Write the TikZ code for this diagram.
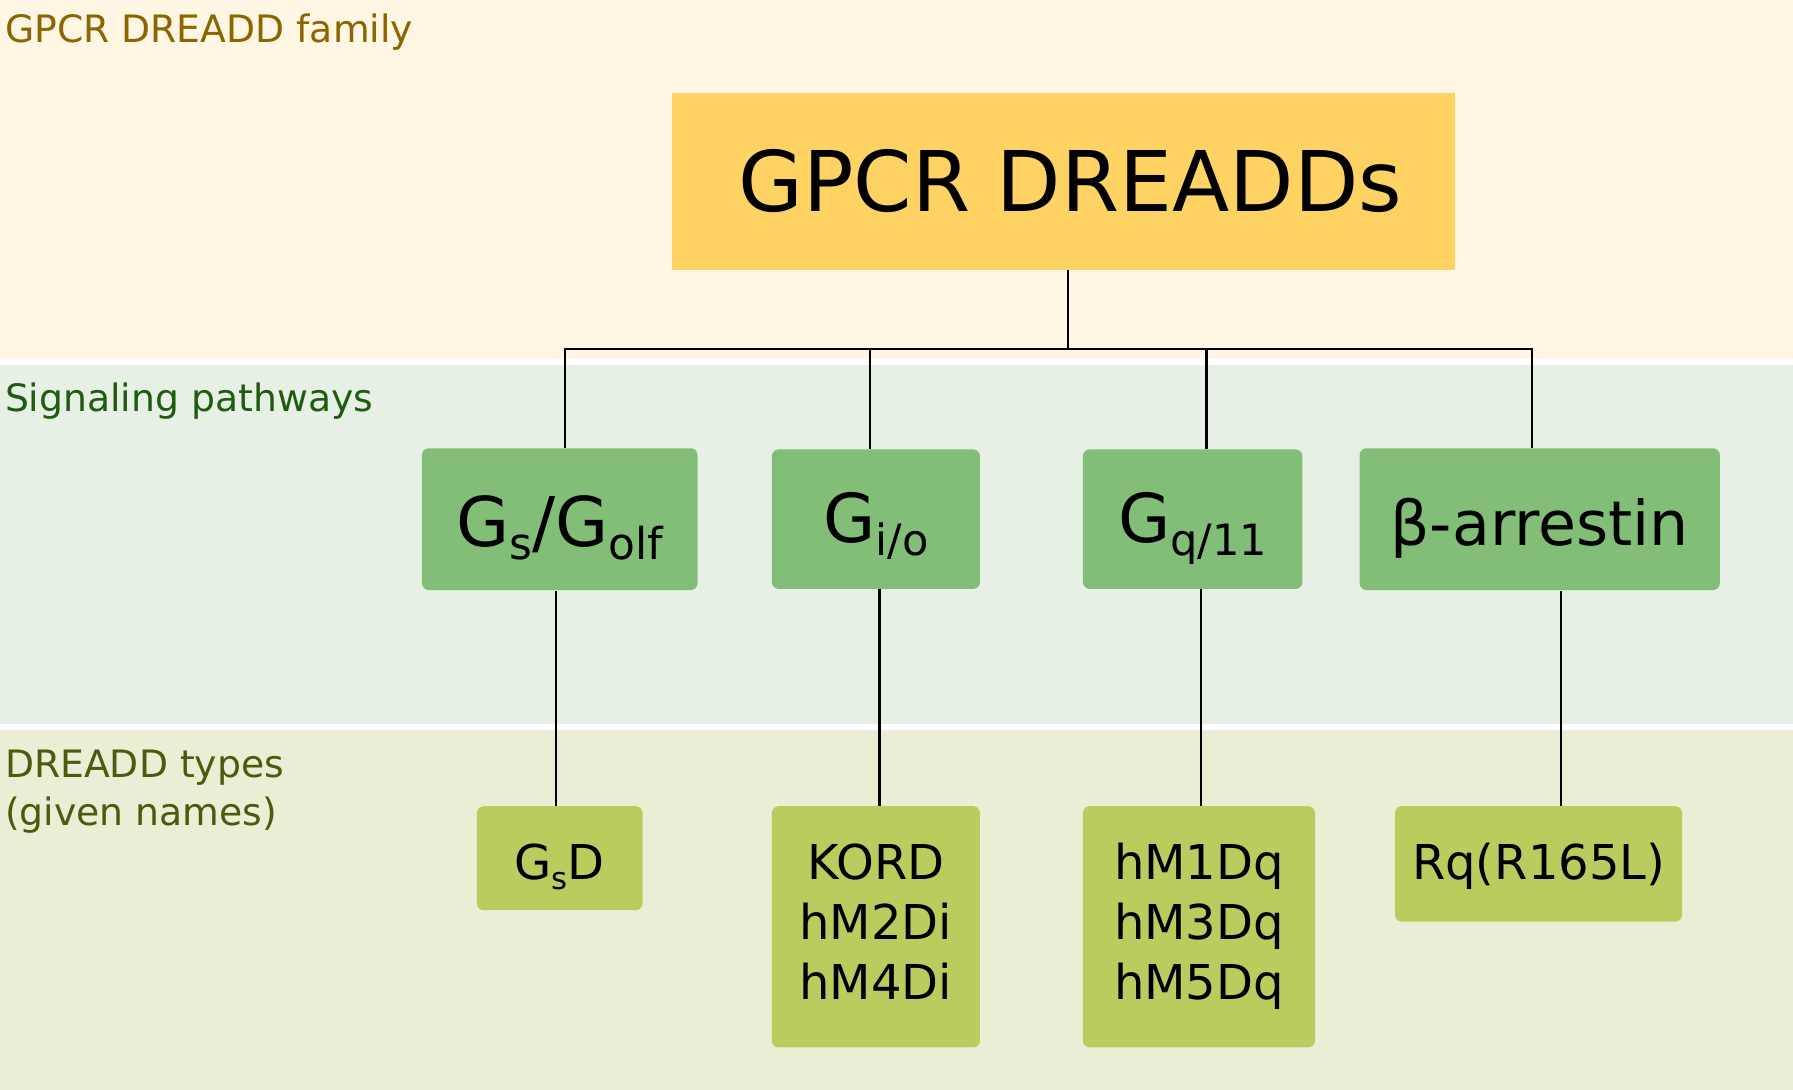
\documentclass[tikz,border=0pt]{standalone}
\usepackage{fontspec}
\setmainfont{DejaVu Sans}
\usepackage{graphicx}
\newcommand\Sb[1]{\raisebox{-0.19em}{\scalebox{0.64}{#1}}}
\definecolor{bandA}{HTML}{FFF7E4}
\definecolor{bandB}{HTML}{E6F0E4}
\definecolor{bandC}{HTML}{EAEED4}
\definecolor{titlefill}{HTML}{FFD264}
\definecolor{pathfill}{HTML}{82BE78}
\definecolor{typefill}{HTML}{BCCB5E}
\definecolor{labA}{HTML}{8C6400}
\definecolor{labB}{HTML}{1F5C10}
\definecolor{labC}{HTML}{4C5A10}
\tikzset{
  lab/.style={inner sep=0pt, font=\fontsize{16.5}{20.8}\selectfont},
  pathbox/.style={fill=pathfill, rounded corners=3pt, inner sep=0pt, text depth=2pt, font=\fontsize{29.5}{36}\selectfont},
  typebox/.style={fill=typefill, rounded corners=3pt, inner sep=0pt, align=center, font=\fontsize{21}{26.25}\selectfont},
  conn/.style={draw=black, line width=1pt},
}
\begin{document}
\begin{tikzpicture}[x=0.5pt, y=-0.5pt]
\useasboundingbox (0,0) rectangle (1568,953);
\fill[white] (0,0) rectangle (1568,953);
\fill[bandA] (0,0) rectangle (1568,314);
\fill[bandB] (0,319) rectangle (1568,633);
\fill[bandC] (0,638) rectangle (1568,953);

\node[lab, text=labA, anchor=base west] (l1) at (4,37) {GPCR DREADD family};
\node[lab, text=labB, anchor=base west] (l2) at (4,359.5) {Signaling pathways};
\node[lab, text=labC, anchor=base west, align=left] (l3) at (4,721.6) {DREADD types\\(given names)};

\node[fill=titlefill, inner sep=0pt, minimum width=342pt, minimum height=77.5pt, font=\fontsize{36.6}{44}\selectfont] (top) at (930,158.5) {\hspace*{6pt}GPCR DREADDs};

\node[pathbox, minimum width=120.5pt, minimum height=62pt, text height=26pt, font=\fontsize{30}{36}\selectfont] (gs) at (489.5,454) {G\Sb{s}/G\Sb{olf}};
\node[pathbox, minimum width=91pt, minimum height=61pt, text height=22.6pt] (gi) at (766,454) {G\Sb{i/o}};
\node[pathbox, minimum width=96pt, minimum height=61pt, text height=22.6pt] (gq) at (1043,454) {G\Sb{q/11}};
\node[pathbox, minimum width=157.5pt, minimum height=62pt, text height=25pt, font=\fontsize{27}{34}\selectfont] (ba) at (1346.5,454) {β-arrestin};

\node[typebox, minimum width=72.5pt, minimum height=45.5pt, text height=19pt, text depth=0pt] (gsd) at (489.5,750.5) {G\Sb{s}D};
\node[typebox, minimum width=91pt, minimum height=105.5pt, text depth=4.5pt] (kord) at (766,810.5) {KORD\\hM2Di\\hM4Di};
\node[typebox, minimum width=101.5pt, minimum height=105.5pt, text depth=4.5pt] (hm) at (1048.5,810.5) {hM1Dq\\hM3Dq\\hM5Dq};
\node[typebox, minimum width=125.5pt, minimum height=50.5pt, text height=16pt, text depth=2pt] (rq) at (1345.5,755.5) {Rq(R165L)};

\coordinate (j) at (934,305);
\draw[conn] (top.south -| j) -- (j);
\draw[conn] ([xshift=2.25pt]gs.north) |- (j);
\draw[conn] ([xshift=-3.25pt]ba.north) |- (j);
\draw[conn] ([xshift=-2.5pt]gi.north) -- ([xshift=-2.5pt]gi.north |- j);
\draw[conn] ([xshift=6pt]gq.north) -- ([xshift=6pt]gq.north |- j);

\draw[conn] ([xshift=-1.75pt]gs.south) -- ([xshift=-1.75pt]gs.south |- gsd.north);
\draw[conn] ([xshift=1.5pt]gi.south) -- ([xshift=1.5pt]gi.south |- kord.north);
\draw[conn] ([xshift=3.5pt]gq.south) -- ([xshift=3.5pt]gq.south |- hm.north);
\draw[conn] ([xshift=9.25pt]ba.south) -- ([xshift=9.25pt]ba.south |- rq.north);
\end{tikzpicture}
\end{document}
